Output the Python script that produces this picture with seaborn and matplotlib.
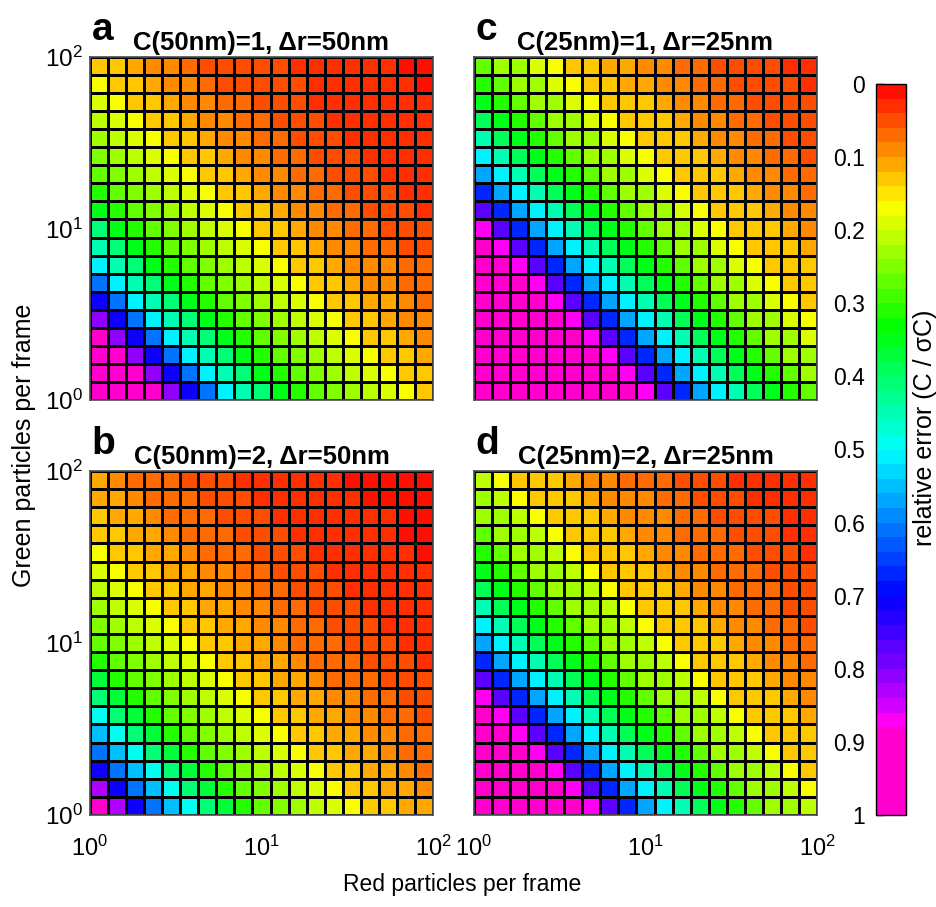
import numpy as np
import matplotlib
matplotlib.use("Agg")
import matplotlib.pyplot as plt
import seaborn as sns
from matplotlib.colors import ListedColormap, hsv_to_rgb

# relative error x100, one row per green-particle bin (top row = 10^2 green),
# one column per red-particle bin (left column = 10^0 red)
err_a = [
    [13, 12, 10, 8, 8, 6, 5, 5, 4, 4, 4, 3, 2, 2, 2, 2, 2, 0, 0],
    [16, 13, 12, 10, 8, 8, 6, 5, 5, 4, 4, 4, 2, 2, 2, 2, 2, 2, 0],
    [18, 16, 13, 12, 10, 8, 8, 6, 6, 5, 4, 4, 3, 2, 2, 2, 2, 2, 2],
    [20, 18, 16, 13, 12, 10, 8, 8, 6, 6, 5, 4, 4, 3, 2, 2, 2, 2, 2],
    [22, 20, 18, 16, 13, 12, 10, 8, 8, 6, 6, 5, 4, 4, 3, 2, 2, 2, 2],
    [25, 22, 20, 18, 16, 13, 12, 10, 8, 8, 6, 6, 5, 4, 4, 3, 3, 2, 2],
    [27, 25, 22, 20, 18, 16, 13, 12, 10, 8, 8, 6, 6, 5, 4, 4, 3, 2, 2],
    [31, 27, 25, 22, 20, 18, 16, 13, 12, 10, 8, 8, 6, 6, 5, 4, 4, 3, 2],
    [35, 31, 27, 25, 22, 20, 18, 16, 13, 12, 10, 8, 8, 6, 6, 5, 4, 4, 3],
    [40, 35, 31, 27, 25, 22, 20, 18, 16, 13, 12, 10, 8, 8, 6, 6, 5, 4, 4],
    [45, 40, 35, 31, 27, 25, 22, 20, 18, 16, 13, 12, 10, 8, 8, 6, 6, 5, 4],
    [50, 45, 40, 35, 31, 27, 25, 22, 20, 18, 16, 13, 12, 10, 8, 8, 8, 6, 6],
    [60, 50, 45, 40, 35, 31, 27, 25, 22, 20, 18, 16, 13, 12, 10, 8, 8, 6, 6],
    [70, 60, 50, 45, 40, 35, 31, 27, 25, 22, 20, 18, 16, 13, 12, 10, 10, 8, 6],
    [80, 70, 60, 50, 45, 40, 35, 31, 27, 25, 22, 20, 18, 16, 13, 12, 10, 8, 8],
    [88, 80, 70, 60, 50, 45, 40, 35, 31, 27, 25, 22, 20, 18, 16, 13, 12, 10, 8],
    [95, 88, 80, 70, 60, 50, 45, 40, 35, 31, 27, 25, 22, 20, 18, 16, 13, 12, 10],
    [95, 95, 88, 80, 70, 60, 50, 45, 40, 35, 31, 27, 25, 22, 20, 18, 16, 13, 12],
    [95, 95, 95, 88, 80, 70, 60, 50, 45, 40, 35, 31, 27, 25, 22, 20, 18, 16, 13],
]

err_b = [
    [10, 8, 6, 6, 6, 4, 4, 4, 3, 2, 2, 2, 2, 2, 0, 0, 0, 0, 0],
    [10, 10, 8, 6, 6, 6, 4, 4, 4, 2, 2, 2, 2, 2, 2, 0, 0, 0, 0],
    [12, 10, 10, 8, 6, 6, 6, 4, 4, 4, 3, 2, 2, 2, 2, 2, 2, 0, 0],
    [13, 12, 10, 10, 8, 6, 6, 6, 4, 4, 4, 3, 2, 2, 2, 2, 2, 0, 0],
    [16, 13, 12, 10, 10, 8, 6, 6, 6, 4, 4, 4, 2, 2, 2, 2, 2, 2, 0],
    [18, 16, 13, 12, 10, 10, 8, 8, 6, 6, 4, 4, 4, 2, 2, 2, 2, 2, 2],
    [20, 18, 16, 13, 12, 10, 10, 8, 8, 6, 6, 4, 4, 4, 2, 2, 2, 2, 2],
    [22, 20, 18, 16, 13, 12, 10, 10, 8, 8, 6, 6, 4, 4, 4, 2, 2, 2, 2],
    [25, 22, 20, 18, 16, 13, 12, 10, 10, 8, 8, 6, 6, 4, 4, 4, 2, 2, 2],
    [27, 25, 22, 20, 18, 16, 13, 12, 10, 10, 8, 6, 6, 6, 4, 4, 4, 2, 2],
    [31, 27, 25, 22, 20, 18, 16, 13, 12, 10, 10, 8, 6, 6, 6, 4, 4, 4, 2],
    [37, 31, 27, 25, 22, 20, 18, 16, 13, 12, 10, 10, 8, 6, 6, 6, 4, 4, 4],
    [40, 37, 31, 27, 25, 22, 20, 18, 16, 13, 12, 10, 10, 8, 8, 6, 6, 4, 4],
    [48, 40, 37, 31, 27, 25, 22, 20, 18, 16, 13, 12, 10, 10, 8, 8, 6, 6, 4],
    [54, 48, 40, 37, 31, 27, 25, 22, 20, 18, 16, 13, 12, 10, 10, 8, 8, 6, 6],
    [60, 54, 48, 40, 37, 31, 27, 25, 22, 20, 18, 16, 13, 12, 10, 10, 8, 6, 6],
    [70, 60, 54, 48, 40, 37, 31, 27, 25, 22, 20, 18, 16, 13, 12, 10, 10, 8, 6],
    [82, 70, 60, 54, 48, 40, 37, 31, 27, 25, 22, 20, 18, 16, 13, 12, 10, 10, 8],
    [95, 82, 70, 60, 54, 48, 40, 37, 31, 27, 25, 22, 20, 18, 16, 13, 12, 10, 10],
]

err_c = [
    [27, 23, 22, 18, 16, 13, 12, 11, 10, 8, 8, 6, 6, 4, 4, 4, 4, 2, 2],
    [31, 27, 23, 22, 18, 16, 13, 12, 11, 10, 8, 8, 6, 6, 4, 4, 4, 4, 2],
    [35, 31, 27, 23, 22, 18, 16, 13, 12, 12, 10, 8, 8, 6, 6, 4, 4, 4, 4],
    [39, 35, 31, 27, 23, 22, 18, 16, 13, 12, 12, 10, 8, 8, 6, 6, 4, 4, 4],
    [45, 39, 35, 31, 27, 23, 22, 18, 16, 13, 12, 12, 10, 8, 8, 6, 6, 4, 4],
    [50, 45, 39, 35, 31, 27, 23, 22, 18, 16, 13, 12, 12, 10, 8, 8, 6, 6, 4],
    [58, 50, 45, 39, 35, 31, 27, 23, 22, 18, 16, 13, 12, 12, 10, 8, 8, 6, 6],
    [67, 58, 50, 45, 39, 35, 31, 27, 23, 22, 18, 16, 13, 12, 12, 10, 8, 8, 6],
    [77, 67, 58, 50, 45, 39, 35, 31, 27, 23, 22, 18, 16, 13, 12, 12, 10, 8, 8],
    [86, 77, 67, 58, 50, 45, 39, 35, 31, 27, 23, 22, 18, 16, 13, 12, 12, 10, 8],
    [95, 86, 77, 67, 58, 50, 45, 39, 35, 31, 27, 23, 22, 18, 16, 13, 12, 12, 10],
    [95, 95, 86, 77, 67, 58, 50, 45, 39, 35, 31, 27, 23, 22, 18, 16, 13, 12, 12],
    [95, 95, 95, 86, 77, 67, 58, 50, 45, 39, 35, 31, 27, 23, 22, 18, 16, 13, 12],
    [95, 95, 95, 95, 86, 77, 67, 58, 50, 45, 39, 35, 31, 27, 23, 22, 18, 16, 13],
    [95, 95, 95, 95, 95, 86, 77, 67, 58, 50, 45, 39, 35, 31, 27, 23, 22, 18, 16],
    [95, 95, 95, 95, 95, 95, 86, 77, 67, 58, 50, 45, 39, 35, 31, 27, 23, 22, 18],
    [95, 95, 95, 95, 95, 95, 95, 86, 77, 67, 58, 50, 45, 39, 35, 31, 27, 23, 22],
    [95, 95, 95, 95, 95, 95, 95, 95, 86, 77, 67, 58, 50, 45, 39, 35, 31, 27, 23],
    [95, 95, 95, 95, 95, 95, 95, 95, 95, 86, 77, 67, 58, 50, 45, 39, 35, 31, 27],
]

err_d = [
    [20, 16, 13, 12, 12, 10, 8, 8, 6, 6, 6, 4, 4, 4, 3, 2, 2, 2, 2],
    [22, 20, 16, 13, 12, 12, 10, 8, 8, 8, 6, 6, 4, 4, 4, 2, 2, 2, 2],
    [23, 22, 20, 16, 13, 12, 12, 10, 8, 8, 8, 6, 6, 4, 4, 4, 4, 2, 2],
    [27, 23, 22, 20, 16, 13, 12, 12, 10, 8, 8, 6, 6, 6, 4, 4, 4, 2, 2],
    [31, 27, 23, 22, 20, 16, 13, 12, 12, 10, 8, 8, 6, 6, 6, 4, 4, 4, 2],
    [35, 31, 27, 23, 22, 20, 16, 13, 12, 12, 10, 8, 8, 6, 6, 6, 4, 4, 4],
    [39, 35, 31, 27, 23, 22, 20, 16, 13, 12, 12, 10, 8, 8, 6, 6, 6, 4, 4],
    [45, 39, 35, 31, 27, 23, 22, 20, 16, 13, 12, 12, 10, 8, 8, 6, 6, 4, 4],
    [50, 45, 39, 35, 31, 27, 23, 22, 20, 16, 13, 12, 12, 10, 8, 8, 6, 6, 4],
    [58, 50, 45, 39, 35, 31, 27, 23, 22, 20, 16, 13, 12, 12, 10, 8, 8, 6, 6],
    [67, 58, 50, 45, 39, 35, 31, 27, 23, 22, 20, 16, 13, 12, 12, 10, 8, 8, 6],
    [77, 67, 58, 50, 45, 39, 35, 31, 27, 23, 22, 20, 16, 13, 12, 12, 10, 8, 8],
    [86, 77, 67, 58, 50, 45, 39, 35, 31, 27, 23, 22, 20, 16, 13, 12, 12, 10, 8],
    [95, 86, 77, 67, 58, 50, 45, 39, 35, 31, 27, 23, 22, 20, 16, 13, 12, 12, 10],
    [95, 95, 86, 77, 67, 58, 50, 45, 39, 35, 31, 27, 23, 22, 20, 16, 13, 12, 12],
    [95, 95, 95, 86, 77, 67, 58, 50, 45, 39, 35, 31, 27, 23, 22, 20, 16, 13, 12],
    [95, 95, 95, 95, 86, 77, 67, 58, 50, 45, 39, 35, 31, 27, 23, 22, 20, 16, 13],
    [95, 95, 95, 95, 95, 86, 77, 67, 58, 50, 45, 39, 35, 31, 27, 23, 22, 20, 16],
    [95, 95, 95, 95, 95, 95, 86, 77, 67, 58, 50, 45, 39, 35, 31, 27, 23, 22, 20],
]

panel_letters = ["a", "b", "c", "d"]
panel_titles = ["C(50nm)=1, \u0394r=50nm", "C(50nm)=2, \u0394r=50nm",
                "C(25nm)=1, \u0394r=25nm", "C(25nm)=2, \u0394r=25nm"]
axis_ticks = [1, 10, 100]
axis_ticklabels = [r"$\mathregular{10^0}$", r"$\mathregular{10^1}$", r"$\mathregular{10^2}$"]
cbar_ticks = [0, 0.1, 0.2, 0.3, 0.4, 0.5, 0.6, 0.7, 0.8, 0.9, 1]
cbar_ticklabels = ["0", "0.1", "0.2", "0.3", "0.4", "0.5", "0.6", "0.7", "0.8", "0.9", "1"]

sns.set_style("white")
plt.rcParams["font.family"] = ["Liberation Sans", "DejaVu Sans"]
plt.rcParams["mathtext.fontset"] = "custom"
plt.rcParams["mathtext.rm"] = "Liberation Sans"
plt.rcParams["text.color"] = "black"
plt.rcParams["axes.labelcolor"] = "black"
plt.rcParams["xtick.color"] = "black"
plt.rcParams["ytick.color"] = "black"

# hsv-like map: red (0) -> yellow -> green -> cyan -> blue -> magenta (1), 50 steps
n_levels = 50
lv = (np.arange(n_levels) + 0.5) / n_levels
hue = np.interp(lv, [0, 0.5, 0.8, 0.86, 0.88, 1.0], [0, 180, 270, 293, 312, 312]) / 360.0
cmap = ListedColormap(hsv_to_rgb(np.column_stack([hue, np.ones(n_levels), np.ones(n_levels)])))

fig = plt.figure(figsize=(9.37, 9.07), dpi=100)
W, H = 937.0, 907.0


def px_axes(x0, y0, x1, y1):
    return fig.add_axes([x0 / W, 1 - y1 / H, (x1 - x0) / W, (y1 - y0) / H])


ax_a = px_axes(90, 57, 433, 400)
ax_c = px_axes(474, 57, 817, 400)
ax_b = px_axes(90, 471, 433, 815)
ax_d = px_axes(474, 471, 817, 815)
cax = px_axes(876, 84, 906, 815)

panels = [(ax_a, err_a), (ax_b, err_b), (ax_c, err_c), (ax_d, err_d)]

for k, (ax, err) in enumerate(panels):
    data = np.array(err) / 100.0
    n = data.shape[0]
    sns.heatmap(data, ax=ax, cmap=cmap, vmin=0, vmax=1,
                linewidths=0.8, linecolor="black",
                cbar=(k == 0), cbar_ax=cax if k == 0 else None,
                xticklabels=False, yticklabels=False)
    # log10 ticks mapped onto the cell grid
    tpos = np.log10(axis_ticks) / 2.0 * n
    ax.set_xticks(tpos)
    ax.set_yticks(n - tpos)
    ax.set_xticklabels(axis_ticklabels if k in (1, 3) else [], fontsize=17)
    ax.set_yticklabels(axis_ticklabels if k in (0, 1) else [], fontsize=17.5)
    ax.tick_params(length=0)
    ax.tick_params(axis="x", pad=15)
    ax.tick_params(axis="y", pad=5)
    for sp in ax.spines.values():
        sp.set_visible(True)
        sp.set_color("0.3")
        sp.set_linewidth(1.2)
    ax.set_title(panel_titles[k], fontsize=18.5, fontweight="bold", pad=5)
    ax.text(0.005, 1.05, panel_letters[k], transform=ax.transAxes,
            fontsize=28, fontweight="bold", ha="left", va="baseline")

cb = ax_a.collections[0].colorbar
cb.set_ticks(cbar_ticks)
cb.set_ticklabels(cbar_ticklabels)
cax.invert_yaxis()
cax.yaxis.set_ticks_position("left")
cax.tick_params(direction="in", length=6, width=1, labelsize=16.5, pad=8)
cb.outline.set_edgecolor("black")
cb.outline.set_linewidth(1)
cax.set_ylabel("relative error (C / \u03c3C)", fontsize=18)
cax.yaxis.set_label_position("right")
cax.yaxis.set_label_coords(1.25, 0.53)

fig.text(462 / W, 1 - 885 / H, "Red particles per frame", ha="center", va="center", fontsize=16.5)
fig.text(24 / W, 1 - 445 / H, "Green particles per frame", ha="center", va="center",
         rotation=90, fontsize=18)

fig.savefig("out.png", dpi=100)
